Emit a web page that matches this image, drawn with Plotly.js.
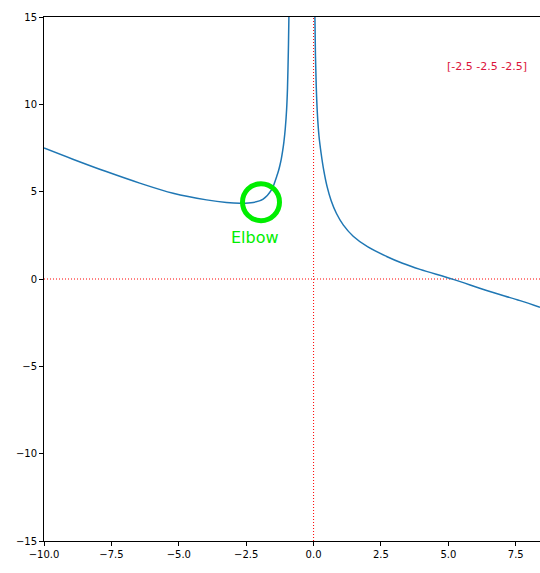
<!DOCTYPE html>
<html>
<head>
<meta charset="utf-8">
<script src="https://cdn.plot.ly/plotly-3.0.1.min.js"></script>
<style>html,body{margin:0;padding:0;background:#fff;}</style>
</head>
<body>
<div id="chart" style="width:540px;height:573px;"></div>
<script>
// Left branch (x < asymptote near -0.9)
const leftX = [-10, -8.93, -7.69, -6.45, -5.21, -3.97, -3.23, -2.74, -2.24, -1.87, -1.56, -1.45, -1.37, -1.3, -1.25, -1.2, -1.15, -1.1, -1.05, -1.0, -0.97, -0.95, -0.93, -0.915];
const leftY = [7.50, 6.86, 6.15, 5.49, 4.91, 4.53, 4.38, 4.34, 4.38, 4.57, 5.10, 5.5, 5.86, 6.2, 6.5, 6.85, 7.3, 7.85, 8.6, 9.7, 10.8, 12.0, 13.5, 15.0];
// Right branch (x > 0)
const rightX = [0.05, 0.07, 0.10, 0.14, 0.20, 0.28, 0.38, 0.50, 0.65, 0.85, 1.1, 1.47, 2.0, 2.71, 3.3, 3.95, 5.18, 6.42, 7.66, 8.4];
const rightY = [15.0, 12.8, 11.0, 9.5, 8.2, 7.2, 6.2, 5.3, 4.5, 3.75, 3.1, 2.45, 1.85, 1.29, 0.9, 0.55, -0.02, -0.66, -1.24, -1.62];
// Reference lines (axhline y=0, axvline x=0)
const refX = [0, 0];
const refY = [-15, 15];
// Elbow point and labels
const elbowX = [-1.95];
const elbowY = [4.4];
const elbowLabel = "Elbow";
const elbowLabelPos = [-2.18, 2.39];
const infoText = "[-2.5 -2.5 -2.5]";
const infoPos = [6.44, 12.19];
const xTicks = [-10, -7.5, -5, -2.5, 0, 2.5, 5, 7.5];
const xTickText = ["−10.0", "−7.5", "−5.0", "−2.5", "0.0", "2.5", "5.0", "7.5"];
const yTicks = [-15, -10, -5, 0, 5, 10, 15];

const lineStyle = {color: '#1f77b4', width: 1.5, shape: 'spline', smoothing: 1};
const refStyle = {color: '#ff0000', width: 1, dash: '1px,2px'};
const traces = [
  {x: refX, y: refY, mode: 'lines', line: refStyle, hoverinfo: 'skip'},
  {x: leftX, y: leftY, mode: 'lines', line: lineStyle, hoverinfo: 'skip'},
  {x: rightX, y: rightY, mode: 'lines', line: lineStyle, hoverinfo: 'skip'},
  {x: elbowX, y: elbowY, mode: 'markers', hoverinfo: 'skip',
   marker: {symbol: 'circle-open', size: 37, color: '#00ee00', line: {width: 5, color: '#00ee00'}}}
];

const font = {family: 'DejaVu Sans, sans-serif', size: 10, color: '#000'};
const layout = {
  width: 540, height: 573,
  margin: {l: 44, r: 0, t: 17, b: 32, pad: 0},
  showlegend: false,
  paper_bgcolor: '#fff', plot_bgcolor: '#fff',
  font: font,
  xaxis: {range: [-10, 8.4], tickvals: xTicks, ticktext: xTickText, ticks: 'outside', ticklen: 4,
          tickcolor: '#000', showgrid: false, zeroline: false, showline: true, linecolor: '#000',
          linewidth: 1, mirror: true, tickfont: font},
  yaxis: {range: [-15, 15], tickvals: yTicks, ticks: 'outside', ticklen: 4,
          tickcolor: '#000', showgrid: false, zeroline: false, showline: true, linecolor: '#000',
          linewidth: 1, tickfont: font},
  shapes: [
    {type: 'line', layer: 'below', xref: 'paper', x0: 0, x1: 1, yref: 'y', y0: 0, y1: 0,
     line: {color: '#ff0000', width: 1, dash: '1px,2px'}}
  ],
  annotations: [
    {x: elbowLabelPos[0], y: elbowLabelPos[1], text: elbowLabel, showarrow: false,
     font: {family: 'DejaVu Sans, sans-serif', size: 16, color: '#00ee00'}},
    {x: infoPos[0], y: infoPos[1], text: infoText, showarrow: false,
     font: {family: 'DejaVu Sans, sans-serif', size: 11, color: '#dc143c'}}
  ]
};
Plotly.newPlot('chart', traces, layout, {displayModeBar: false, staticPlot: true});
</script>
</body>
</html>
